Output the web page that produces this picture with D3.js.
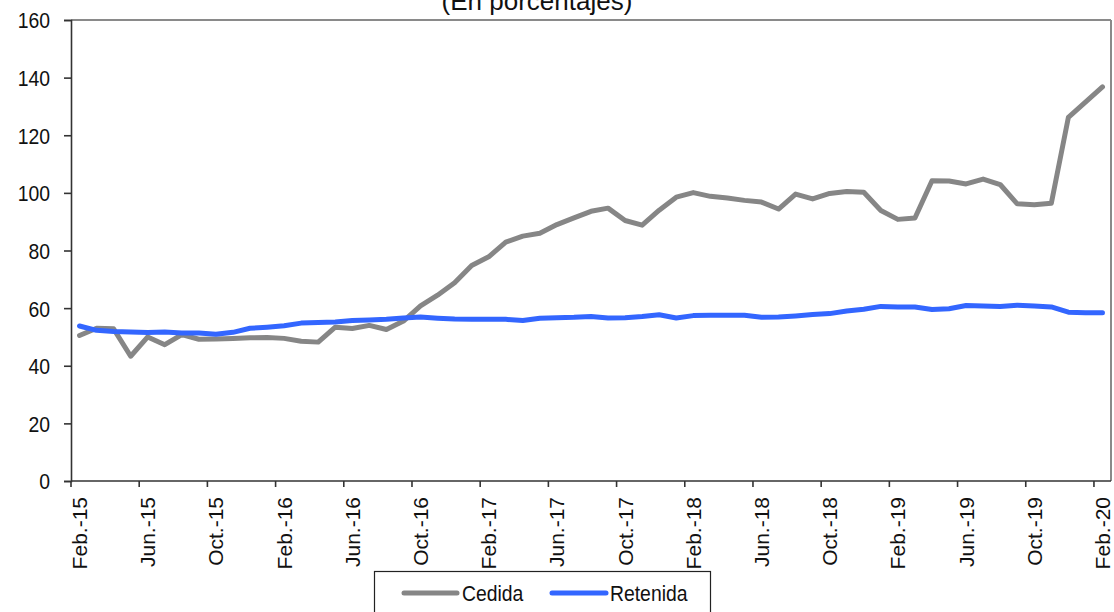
<!DOCTYPE html>
<html>
<head>
<meta charset="utf-8">
<script src="https://cdn.jsdelivr.net/npm/d3@7"></script>
<style>
  html, body { margin: 0; padding: 0; background: #fff; }
  svg { display: block; }
  text { font-family: "Liberation Sans", Arial, sans-serif; fill: #111; }
</style>
</head>
<body>
<svg id="chart" width="1114" height="612"></svg>
<script>
const categories = [
  "Feb.-15","Mar.-15","Abr.-15","May.-15","Jun.-15","Jul.-15","Ago.-15","Sep.-15","Oct.-15","Nov.-15","Dic.-15","Ene.-16",
  "Feb.-16","Mar.-16","Abr.-16","May.-16","Jun.-16","Jul.-16","Ago.-16","Sep.-16","Oct.-16","Nov.-16","Dic.-16","Ene.-17",
  "Feb.-17","Mar.-17","Abr.-17","May.-17","Jun.-17","Jul.-17","Ago.-17","Sep.-17","Oct.-17","Nov.-17","Dic.-17","Ene.-18",
  "Feb.-18","Mar.-18","Abr.-18","May.-18","Jun.-18","Jul.-18","Ago.-18","Sep.-18","Oct.-18","Nov.-18","Dic.-18","Ene.-19",
  "Feb.-19","Mar.-19","Abr.-19","May.-19","Jun.-19","Jul.-19","Ago.-19","Sep.-19","Oct.-19","Nov.-19","Dic.-19","Ene.-20",
  "Feb.-20"
];
const tickLabels = ["Feb.-15","Jun.-15","Oct.-15","Feb.-16","Jun.-16","Oct.-16","Feb.-17","Jun.-17","Oct.-17",
  "Feb.-18","Jun.-18","Oct.-18","Feb.-19","Jun.-19","Oct.-19","Feb.-20"];
const yTicks = [0, 20, 40, 60, 80, 100, 120, 140, 160];

const cedida = [
  50.5, 53.0, 52.8, 43.3, 50.0, 47.3, 50.8, 49.2, 49.3, 49.5, 49.7, 49.8,
  49.5, 48.5, 48.2, 53.4, 52.9, 54.0, 52.6, 55.5, 60.8, 64.5, 68.8, 74.8,
  77.8, 82.9, 85.0, 86.0, 89.0, 91.3, 93.6, 94.7, 90.4, 88.8, 94.0, 98.5,
  100.1, 98.8, 98.2, 97.4, 96.8, 94.4, 99.6, 97.9, 99.8, 100.5, 100.2, 93.9,
  90.8, 91.3, 104.2, 104.1, 103.1, 104.8, 102.9, 96.2, 95.9, 96.4, 126.2, 131.5,
  136.8
];
const retenida = [
  53.8, 52.3, 51.9, 51.7, 51.5, 51.7, 51.4, 51.4, 50.9, 51.6, 53.0, 53.4,
  53.9, 54.8, 55.0, 55.2, 55.7, 55.9, 56.1, 56.6, 56.9, 56.5, 56.2, 56.1,
  56.1, 56.1, 55.7, 56.5, 56.7, 56.8, 57.1, 56.6, 56.7, 57.1, 57.7, 56.6,
  57.4, 57.5, 57.5, 57.5, 56.8, 56.9, 57.3, 57.8, 58.1, 59.0, 59.6, 60.6,
  60.4, 60.4, 59.5, 59.8, 60.9, 60.7, 60.6, 61.0, 60.7, 60.4, 58.6, 58.4,
  58.4
];
const seriesNames = ["Cedida", "Retenida"];
const seriesColors = ["#868686", "#3366ff"];
const titleText = "(En porcentajes)";

const svg = d3.select("#chart");
const L = 71, R = 1111, T = 20, B = 481;
const SX = 0.88;

const x = d3.scaleBand().domain(categories).range([L, R]).paddingInner(0).paddingOuter(0);
const y = d3.scaleLinear().domain([0, 160]).range([B, T]);
const cx = c => x(c) + x.bandwidth() / 2;

// title (partially cut at top, as in the reference)
svg.append("text")
  .attr("x", 537).attr("y", 10)
  .attr("text-anchor", "middle")
  .style("font-size", "26px")
  .text(titleText);

// plot border (top/right, grey)
svg.append("line").attr("x1", L).attr("x2", R).attr("y1", T).attr("y2", T)
  .attr("stroke", "#8a8a8a").attr("stroke-width", 2);
svg.append("line").attr("x1", R).attr("x2", R).attr("y1", T).attr("y2", B)
  .attr("stroke", "#8a8a8a").attr("stroke-width", 2);

// y axis
const yAxis = svg.append("g").attr("transform", `translate(${L},0)`)
  .call(d3.axisLeft(y).tickValues(yTicks).tickSize(7).tickPadding(0).tickFormat(d3.format("d")));
yAxis.select(".domain").attr("stroke", "#333").attr("stroke-width", 1.6);
yAxis.selectAll(".tick line").attr("stroke", "#333").attr("stroke-width", 1.6);
yAxis.selectAll(".tick text").remove();
yAxis.selectAll(".tick").append("text")
  .attr("text-anchor", "end")
  .attr("transform", `translate(-21,0) scale(${SX},1)`)
  .attr("dy", "0.36em")
  .style("font-size", "22px")
  .attr("fill", "#111")
  .text(d => d);

// x axis
const xAxisG = svg.append("g");
xAxisG.append("line").attr("x1", L).attr("x2", R).attr("y1", B).attr("y2", B)
  .attr("stroke", "#333").attr("stroke-width", 1.6);
xAxisG.selectAll("line.tk").data(tickLabels).enter().append("line")
  .attr("class", "tk")
  .attr("x1", d => x(d)).attr("x2", d => x(d))
  .attr("y1", B).attr("y2", B + 6)
  .attr("stroke", "#333").attr("stroke-width", 1.6);
xAxisG.selectAll("text.tl").data(tickLabels).enter().append("text")
  .attr("class", "tl")
  .attr("text-anchor", "end")
  .attr("transform", d => `translate(${cx(d)},${B + 16}) rotate(-90)`)
  .attr("dy", "0.36em")
  .style("font-size", "21px")
  .text(d => d);

// lines
const line = d3.line().x((d, i) => cx(categories[i])).y(d => y(d));
[cedida, retenida].forEach((s, k) => {
  svg.append("path").datum(s)
    .attr("d", line)
    .attr("fill", "none")
    .attr("stroke", seriesColors[k])
    .attr("stroke-width", 5)
    .attr("stroke-linejoin", "round")
    .attr("stroke-linecap", "round");
});

// legend
const lg = svg.append("g");
lg.append("rect").attr("x", 374.5).attr("y", 571.5).attr("width", 336).attr("height", 60)
  .attr("fill", "#fff").attr("stroke", "#222").attr("stroke-width", 1.2);
const legItems = [
  { name: seriesNames[0], color: seriesColors[0], x1: 404, x2: 457, tx: 462 },
  { name: seriesNames[1], color: seriesColors[1], x1: 552, x2: 606, tx: 610 }
];
legItems.forEach(it => {
  lg.append("line").attr("x1", it.x1).attr("x2", it.x2).attr("y1", 593).attr("y2", 593)
    .attr("stroke", it.color).attr("stroke-width", 5).attr("stroke-linecap", "round");
  lg.append("text").attr("transform", `translate(${it.tx},601) scale(${SX},1)`)
    .style("font-size", "22px").text(it.name);
});
</script>
</body>
</html>
